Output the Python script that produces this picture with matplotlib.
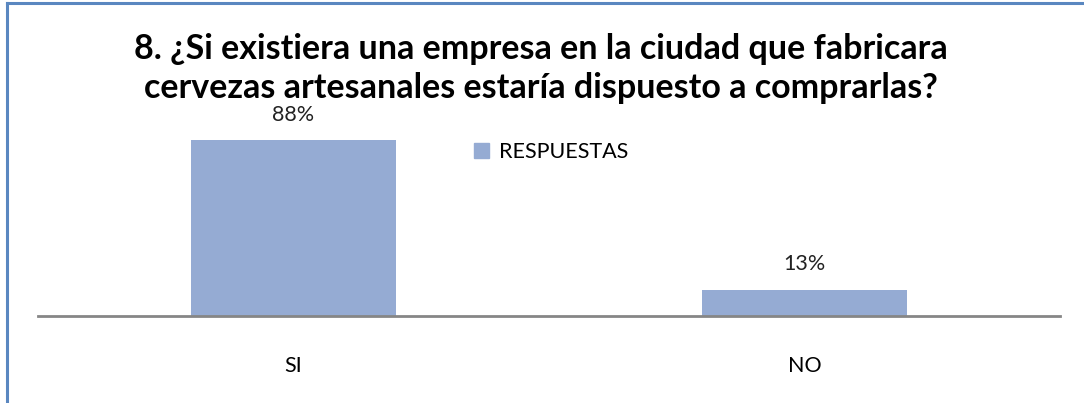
import matplotlib.pyplot as plt
from matplotlib.lines import Line2D
from matplotlib.patches import Patch

categories = ['SI', 'NO']
values = [88, 13]
labels = ['88%', '13%']
series_name = 'RESPUESTAS'
title = '8. ¿Si existiera una empresa en la ciudad que fabricara\ncervezas artesanales estaría dispuesto a comprarlas?'

plt.rcParams['font.family'] = ['Lato', 'DejaVu Sans']

fig = plt.figure(figsize=(10.84, 4.03), dpi=100)
ax = fig.add_axes([0.035, 0.2166, 0.943, 0.496])

bar_color = '#95abd3'
ax.bar(range(len(categories)), values, width=0.4, color=bar_color)
ax.set_xlim(-0.5, 1.5)
ax.set_ylim(0, 100)

for i, (v, lab) in enumerate(zip(values, labels)):
    ax.annotate(lab, (i, v), xytext=(0, 11), textcoords='offset points',
                ha='center', va='bottom', fontsize=15.5, color='#222222')

ax.set_xticks(range(len(categories)))
ax.set_xticklabels(categories, fontsize=15.5)
ax.tick_params(axis='x', length=0, pad=29)
ax.set_yticks([])
for s in ['top', 'right', 'left']:
    ax.spines[s].set_visible(False)
ax.spines['bottom'].set_color('#868686')
ax.spines['bottom'].set_linewidth(2)

ax.legend(handles=[Patch(color=bar_color, label=series_name)],
          loc='upper left', bbox_to_anchor=(0.408, 0.965), frameon=False,
          fontsize=15.5, handlelength=0.7, handleheight=0.7, handletextpad=0.45)

fig.text(0.499, 0.829, title, ha='center', va='center', fontsize=24.5,
         fontweight='bold', linespacing=1.27)

# frame (left and top edges)
fig.add_artist(Line2D([0.0065, 0.0065], [0, 0.992], color='#5a87c0', lw=2.2))
fig.add_artist(Line2D([0.0065, 1.0], [0.992, 0.992], color='#5a87c0', lw=2.2))

fig.savefig('out.png', dpi=100, facecolor='white')
